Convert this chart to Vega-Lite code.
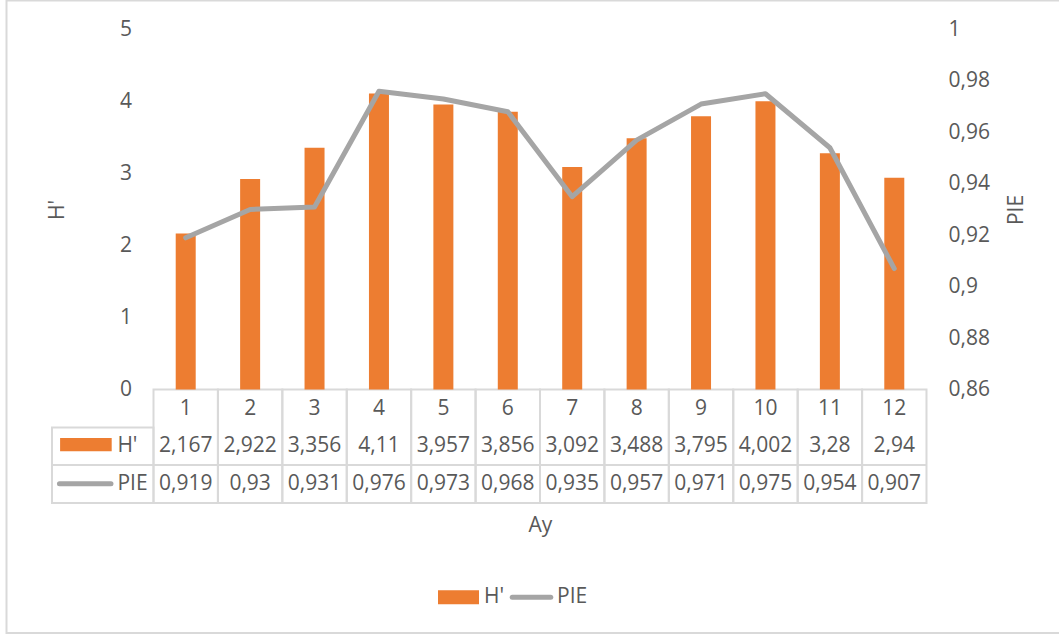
{
  "$schema": "https://vega.github.io/schema/vega-lite/v6.json",
  "width": 874.5,
  "height": 473.5,
  "autosize": {"type": "none"},
  "padding": {"left": 52, "top": 29.5, "right": 132.5, "bottom": 134},
  "background": "white",
  "config": {
    "view": {"stroke": null},
    "locale": {"number": {"decimal": ",", "thousands": ".", "grouping": [3], "currency": ["", " €"]}},
    "font": "Open Sans",
    "axis": {
      "labelFont": "Open Sans", "labelFontSize": 21, "labelColor": "#595959",
      "titleFont": "Open Sans", "titleFontSize": 21, "titleColor": "#595959", "titleFontWeight": "normal",
      "domain": false, "ticks": false, "grid": false
    },
    "legend": {"labelFont": "Open Sans", "labelFontSize": 21, "labelColor": "#595959"},
    "text": {"font": "Open Sans", "fontSize": 21, "color": "#595959"}
  },
  "data": {
    "values": [
      {"month": 1, "H": 2.167, "PIE": 0.919},
      {"month": 2, "H": 2.922, "PIE": 0.93},
      {"month": 3, "H": 3.356, "PIE": 0.931},
      {"month": 4, "H": 4.11, "PIE": 0.976},
      {"month": 5, "H": 3.957, "PIE": 0.973},
      {"month": 6, "H": 3.856, "PIE": 0.968},
      {"month": 7, "H": 3.092, "PIE": 0.935},
      {"month": 8, "H": 3.488, "PIE": 0.957},
      {"month": 9, "H": 3.795, "PIE": 0.971},
      {"month": 10, "H": 4.002, "PIE": 0.975},
      {"month": 11, "H": 3.28, "PIE": 0.954},
      {"month": 12, "H": 2.94, "PIE": 0.907}
    ]
  },
  "layer": [
    {
      "layer": [
        {
          "data": {"values": [{}]},
          "mark": {"type": "rect", "fill": "transparent", "stroke": "#d9d9d9", "strokeWidth": 2, "clip": false},
          "encoding": {
            "x": {"datum": -1.782},
            "x2": {"datum": 14.65},
            "y": {"datum": 5.403},
            "y2": {"datum": -3.382}
          }
        },
        {
          "mark": {"type": "bar", "size": 64.4, "fill": "transparent", "stroke": "#d9d9d9", "strokeWidth": 2},
          "encoding": {
            "x": {
              "field": "month", "type": "quantitative",
              "scale": {"domain": [-1.0757, 12.5], "nice": false, "zero": false, "padding": 0},
              "axis": {"title": "Ay", "labels": false, "titleX": 488, "titleY": 22, "titleBaseline": "middle"}
            },
            "y": {"datum": 0},
            "y2": {"datum": -1.5764}
          }
        },
        {
          "data": {"values": [{}]},
          "mark": {"type": "rect", "fill": "transparent", "stroke": "#d9d9d9", "strokeWidth": 2},
          "encoding": {
            "x": {"datum": -1.0757},
            "x2": {"datum": 0.5},
            "y": {"datum": -0.528},
            "y2": {"datum": -1.5764}
          }
        },
        {
          "data": {"values": [{}]},
          "mark": {"type": "rule", "stroke": "#d9d9d9", "strokeWidth": 2},
          "encoding": {
            "x": {"datum": -1.0757},
            "x2": {"datum": 12.5},
            "y": {"datum": -1.049}
          }
        },
        {
          "mark": {"type": "bar", "size": 20},
          "encoding": {
            "x": {"field": "month", "type": "quantitative"},
            "y": {
              "field": "H", "type": "quantitative",
              "scale": {"domain": [-1.5764, 5], "nice": false, "zero": false, "padding": 0},
              "axis": {
                "values": [0, 1, 2, 3, 4, 5], "format": "~g", "offset": -101.5, "labelPadding": 22,
                "title": "H'", "titleX": -96, "titleY": 180, "titleAngle": -90, "titleBaseline": "middle"
              }
            },
            "color": {
              "datum": "H'",
              "scale": {"domain": ["H'", "PIE"], "range": ["#ED7D31", "#A5A5A5"]},
              "legend": {
                "orient": "none", "legendX": 396, "legendY": 557, "direction": "horizontal",
                "title": null, "symbolSize": 1681, "labelOffset": 15, "columnPadding": -3,
                "encode": {
                  "symbols": {
                    "update": {
                      "shape": {"signal": "datum.value === 'PIE' ? 'M-0.94,0L0.94,0' : 'M-1,-0.34L1,-0.34L1,0.34L-1,0.34Z'"},
                      "fill": {"signal": "datum.value === 'PIE' ? 'transparent' : '#ED7D31'"},
                      "stroke": {"signal": "datum.value === 'PIE' ? '#A5A5A5' : 'transparent'"},
                      "strokeWidth": {"signal": "datum.value === 'PIE' ? 5 : 0"},
                      "strokeCap": {"value": "round"},
                      "opacity": {"value": 1}
                    }
                  }
                }
              }
            }
          }
        },
        {
          "mark": {"type": "text", "align": "center", "baseline": "middle"},
          "encoding": {
            "x": {"field": "month", "type": "quantitative"},
            "y": {"datum": -0.264},
            "text": {"field": "month", "type": "quantitative", "format": "~g"}
          }
        },
        {
          "mark": {"type": "text", "align": "center", "baseline": "middle"},
          "encoding": {
            "x": {"field": "month", "type": "quantitative"},
            "y": {"datum": -0.785},
            "text": {"field": "H", "type": "quantitative", "format": "~g"}
          }
        },
        {
          "mark": {"type": "text", "align": "center", "baseline": "middle"},
          "encoding": {
            "x": {"field": "month", "type": "quantitative"},
            "y": {"datum": -1.3125},
            "text": {"field": "PIE", "type": "quantitative", "format": "~g"}
          }
        },
        {
          "data": {"values": [{}]},
          "mark": {"type": "rect", "fill": "#ED7D31"},
          "encoding": {
            "x": {"datum": -0.95},
            "x2": {"datum": -0.149},
            "y": {"datum": -0.6736},
            "y2": {"datum": -0.858}
          }
        },
        {
          "data": {"values": [{}]},
          "mark": {"type": "rule", "stroke": "#A5A5A5", "strokeWidth": 5, "strokeCap": "round"},
          "encoding": {
            "x": {"datum": -0.96},
            "x2": {"datum": -0.16},
            "y": {"datum": -1.308}
          }
        },
        {
          "data": {"values": [{"label": "H'"}]},
          "mark": {"type": "text", "align": "left", "baseline": "middle"},
          "encoding": {
            "x": {"datum": -0.0606},
            "y": {"datum": -0.785},
            "text": {"field": "label"}
          }
        },
        {
          "data": {"values": [{"label": "PIE"}]},
          "mark": {"type": "text", "align": "left", "baseline": "middle"},
          "encoding": {
            "x": {"datum": -0.0606},
            "y": {"datum": -1.3125},
            "text": {"field": "label"}
          }
        }
      ]
    },
    {
      "mark": {"type": "line", "strokeWidth": 5, "strokeCap": "round", "strokeJoin": "round"},
      "encoding": {
        "x": {"field": "month", "type": "quantitative"},
        "y": {
          "field": "PIE", "type": "quantitative",
          "scale": {"domain": [0.81586, 1], "nice": false, "zero": false, "padding": 0},
          "axis": {
            "orient": "right", "values": [0.86, 0.88, 0.9, 0.92, 0.94, 0.96, 0.98, 1], "format": "~g",
            "labelPadding": 21.5, "title": "PIE", "titleX": 89.5, "titleY": 180, "titleAngle": -90, "titleBaseline": "middle"
          }
        },
        "color": {"datum": "PIE"}
      }
    }
  ],
  "resolve": {"scale": {"y": "independent"}}
}
